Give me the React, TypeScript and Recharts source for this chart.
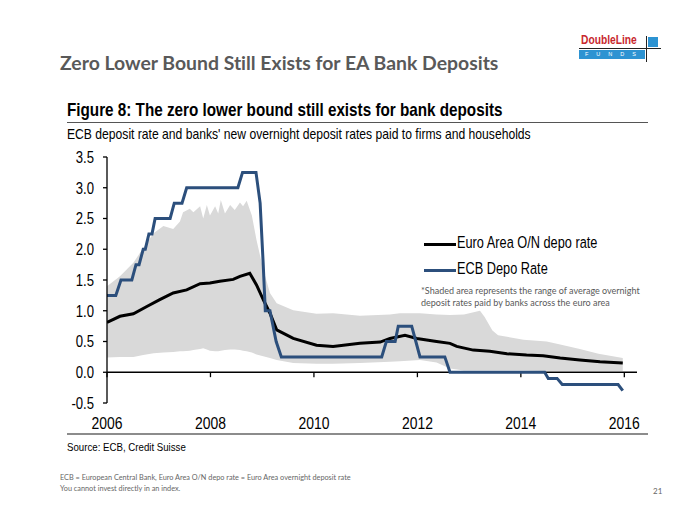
import { Area, ComposedChart, Line, ReferenceLine, XAxis, YAxis } from "recharts";

// ECB deposit facility rate (decimal year, %)
const ecbTimes = [2006.0, 2006.17, 2006.27, 2006.48, 2006.56, 2006.62, 2006.7, 2006.74, 2006.81, 2006.87, 2006.93, 2007.22, 2007.3, 2007.45, 2007.54, 2008.53, 2008.62, 2008.88, 2008.96, 2009.02, 2009.06, 2009.15, 2009.27, 2009.37, 2011.31, 2011.4, 2011.57, 2011.63, 2011.89, 2011.97, 2012.05, 2012.53, 2012.63, 2014.46, 2014.53, 2014.7, 2014.8, 2015.88, 2015.97];
const ecbRates = [1.25, 1.25, 1.5, 1.5, 1.75, 1.75, 2.0, 2.0, 2.25, 2.25, 2.5, 2.5, 2.75, 2.75, 3.0, 3.0, 3.25, 3.25, 2.75, 1.75, 1.0, 1.0, 0.5, 0.25, 0.25, 0.5, 0.5, 0.75, 0.75, 0.5, 0.25, 0.25, 0.0, 0.0, -0.1, -0.1, -0.2, -0.2, -0.3];

// Euro area overnight deposit rate
const onTimes = [2006.0, 2006.25, 2006.51, 2006.77, 2007.02, 2007.28, 2007.54, 2007.8, 2007.99, 2008.18, 2008.44, 2008.57, 2008.76, 2008.89, 2009.02, 2009.15, 2009.28, 2009.6, 2010.05, 2010.37, 2010.89, 2011.28, 2011.47, 2011.76, 2011.99, 2012.37, 2012.63, 2012.76, 2013.08, 2013.4, 2013.73, 2014.11, 2014.43, 2014.76, 2015.14, 2015.53, 2015.97];
const onRates = [0.81, 0.91, 0.95, 1.07, 1.18, 1.29, 1.34, 1.44, 1.45, 1.48, 1.51, 1.56, 1.61, 1.42, 1.18, 0.96, 0.69, 0.55, 0.44, 0.42, 0.47, 0.49, 0.55, 0.6, 0.55, 0.5, 0.47, 0.42, 0.36, 0.34, 0.3, 0.28, 0.27, 0.23, 0.2, 0.17, 0.15];

// shaded range across euro area banks
const bandTimes = [2006.0, 2006.25, 2006.51, 2006.7, 2006.9, 2007.09, 2007.28, 2007.41, 2007.47, 2007.6, 2007.67, 2007.8, 2007.86, 2007.93, 2007.99, 2008.09, 2008.15, 2008.2, 2008.28, 2008.38, 2008.47, 2008.57, 2008.63, 2008.7, 2008.8, 2008.89, 2009.02, 2009.15, 2009.28, 2009.6, 2010.05, 2010.37, 2010.89, 2011.47, 2011.66, 2012.05, 2012.37, 2012.63, 2012.9, 2013.21, 2013.3, 2013.45, 2013.56, 2014.05, 2014.5, 2014.76, 2015.14, 2015.5, 2015.97];
const bandHigh = [1.4, 1.56, 1.78, 2.02, 2.26, 2.38, 2.33, 2.45, 2.6, 2.66, 2.6, 2.7, 2.5, 2.72, 2.55, 2.7, 2.58, 2.8, 2.58, 2.72, 2.64, 2.76, 2.7, 2.79, 2.55, 2.15, 1.67, 1.29, 1.12, 1.01, 0.95, 0.96, 0.92, 0.94, 0.96, 0.96, 0.94, 0.93, 0.94, 1.0, 0.9, 0.68, 0.6, 0.53, 0.5, 0.45, 0.38, 0.3, 0.23];
const bandLow = [0.24, 0.25, 0.25, 0.28, 0.31, 0.32, 0.33, 0.34, 0.34, 0.35, 0.36, 0.38, 0.39, 0.37, 0.35, 0.34, 0.34, 0.35, 0.36, 0.37, 0.37, 0.36, 0.35, 0.34, 0.32, 0.29, 0.26, 0.23, 0.2, 0.15, 0.14, 0.14, 0.15, 0.17, 0.18, 0.2, 0.16, 0.06, 0.03, 0.03, 0.03, 0.03, 0.03, 0.03, 0.02, 0.02, 0.02, 0.02, 0.02];

const yearTicks = [2006, 2008, 2010, 2012, 2014, 2016];
const yTicks = [-0.5, 0, 0.5, 1, 1.5, 2, 2.5, 3, 3.5];

const ecbData = ecbTimes.map((t, i) => ({ t, v: ecbRates[i] }));
const onData = onTimes.map((t, i) => ({ t, v: onRates[i] }));
const bandData = bandTimes.map((t, i) => ({ t, range: [bandLow[i], bandHigh[i]] }));

// no Arial Narrow here, so squeeze Liberation Sans
const arial = "'Liberation Sans', Arial, sans-serif";
const SQ = 0.82;
const calibri = "Lato, 'Open Sans', sans-serif";
const BLUE = "#2c4f7c";

const narrowBox = (extra: React.CSSProperties, sq = SQ): React.CSSProperties => ({
  position: "absolute",
  fontFamily: arial,
  whiteSpace: "nowrap",
  transform: `scaleX(${sq})`,
  transformOrigin: "left top",
  color: "#000",
  ...extra,
});

function NarrowTick(props: any) {
  const { x, y, payload, anchor, dy, size, fmt } = props;
  return (
    <text
      x={x}
      y={y}
      dy={dy}
      textAnchor={anchor}
      fontFamily={arial}
      fontSize={size}
      fill="#000"
      transform={`translate(${x},0) scale(${SQ},1) translate(${-x},0)`}
    >
      {fmt ? fmt(payload.value) : payload.value}
    </text>
  );
}

function Logo() {
  return (
    <div style={{ position: "absolute", left: 578, top: 32, width: 86, height: 32 }}>
      <div style={narrowBox({ left: 3, top: 1, fontWeight: 700, fontSize: 12.5, color: "#c8282e" })}>DoubleLine</div>
      <div style={{ position: "absolute", left: 1, top: 18, width: 66, height: 9, background: "#2d93d2", color: "#fff", fontFamily: arial, fontSize: 5.5, letterSpacing: 8, lineHeight: "9px", paddingLeft: 6, boxSizing: "border-box" }}>FUNDS</div>
      <div style={{ position: "absolute", left: 70, top: 5, width: 10, height: 10, background: "#2d93d2" }} />
      <div style={{ position: "absolute", left: 1, top: 16, width: 82, height: 1, background: "#222" }} />
      <div style={{ position: "absolute", left: 68, top: 4, width: 1, height: 26, background: "#222" }} />
    </div>
  );
}

export default function App() {
  return (
    <div style={{ position: "absolute", left: 0, top: 0, width: 700, height: 525, background: "#fff", overflow: "hidden" }}>
      <div style={{ position: "absolute", left: 60, top: 51, fontFamily: calibri, fontWeight: 700, fontSize: 19.4, color: "#595959", whiteSpace: "nowrap", fontVariantLigatures: "none" }}>
        Zero Lower Bound Still Exists for EA Bank Deposits
      </div>
      <Logo />
      <div style={narrowBox({ left: 67, top: 99, fontWeight: 700, fontSize: 18.6 })}>
        Figure 8: The zero lower bound still exists for bank deposits
      </div>
      <div style={{ position: "absolute", left: 67, top: 122, width: 581, height: 1, background: "#555" }} />
      <div style={narrowBox({ left: 67, top: 126, fontSize: 14.8 })}>
        ECB deposit rate and banks' new overnight deposit rates paid to firms and households
      </div>

      <div style={{ position: "absolute", left: 0, top: 0 }}>
        <ComposedChart width={700} height={525} margin={{ top: 157, right: 63, bottom: 92, left: 67 }}>
          <XAxis
            type="number"
            dataKey="t"
            domain={[2006, 2016.245]}
            ticks={yearTicks}
            allowDataOverflow
            axisLine={false}
            tickLine={false}
            tickSize={0}
            tickMargin={14}
            height={30}
            tick={<NarrowTick anchor="middle" dy="0.71em" size={17} />}
          />
          <YAxis
            type="number"
            domain={[-0.5, 3.5]}
            ticks={yTicks}
            width={40}
            axisLine={{ stroke: "#000", strokeWidth: 1.3 }}
            tickLine={{ stroke: "#000", strokeWidth: 1.3 }}
            tickSize={4}
            tickMargin={9}
            tick={<NarrowTick anchor="end" dy="0.36em" size={16} fmt={(v: number) => v.toFixed(1)} />}
          />
          <Area data={bandData} dataKey="range" type="linear" stroke="none" fill="#d9d9d9" fillOpacity={1} isAnimationActive={false} />
          <ReferenceLine y={0} stroke="#000" strokeWidth={1.5} />
          {yearTicks.map((yr) => (
            <ReferenceLine key={yr} segment={[{ x: yr, y: 0 }, { x: yr, y: -0.08 }]} stroke="#000" strokeWidth={1.3} />
          ))}
          <Line data={onData} dataKey="v" type="linear" stroke="#000" strokeWidth={3} dot={false} isAnimationActive={false} />
          <Line data={ecbData} dataKey="v" type="linear" stroke={BLUE} strokeWidth={3} dot={false} isAnimationActive={false} />
        </ComposedChart>
      </div>

      <div style={{ position: "absolute", left: 424, top: 233 }}>
        <div style={{ position: "absolute", left: 0, top: 10, width: 32, height: 3, background: "#000" }} />
        <div style={narrowBox({ left: 33, top: 0, fontSize: 16.8 }, 0.76)}>Euro Area O/N depo rate</div>
        <div style={{ position: "absolute", left: 0, top: 36, width: 32, height: 3, background: BLUE }} />
        <div style={narrowBox({ left: 33, top: 26, fontSize: 16.8 }, 0.76)}>ECB Depo Rate</div>
      </div>
      <div style={{ position: "absolute", left: 421, top: 285, fontFamily: calibri, fontSize: 9, lineHeight: "12px", color: "#595959", whiteSpace: "nowrap" }}>
        *Shaded area represents the range of average overnight
        <br />
        deposit rates paid by banks across the euro area
      </div>

      <div style={{ position: "absolute", left: 67, top: 433, width: 581, height: 2, background: "#8c8c8c" }} />
      <div style={narrowBox({ left: 67, top: 440, fontSize: 11.8 })}>Source: ECB, Credit Suisse</div>

      <div style={{ position: "absolute", left: 60, top: 472, fontFamily: calibri, fontSize: 7.3, lineHeight: "11px", color: "#666", whiteSpace: "nowrap" }}>
        ECB = European Central Bank, Euro Area O/N depo rate = Euro Area overnight deposit rate
        <br />
        You cannot invest directly in an index.
      </div>
      <div style={{ position: "absolute", left: 653, top: 486, fontFamily: calibri, fontSize: 8, color: "#666" }}>21</div>
    </div>
  );
}
